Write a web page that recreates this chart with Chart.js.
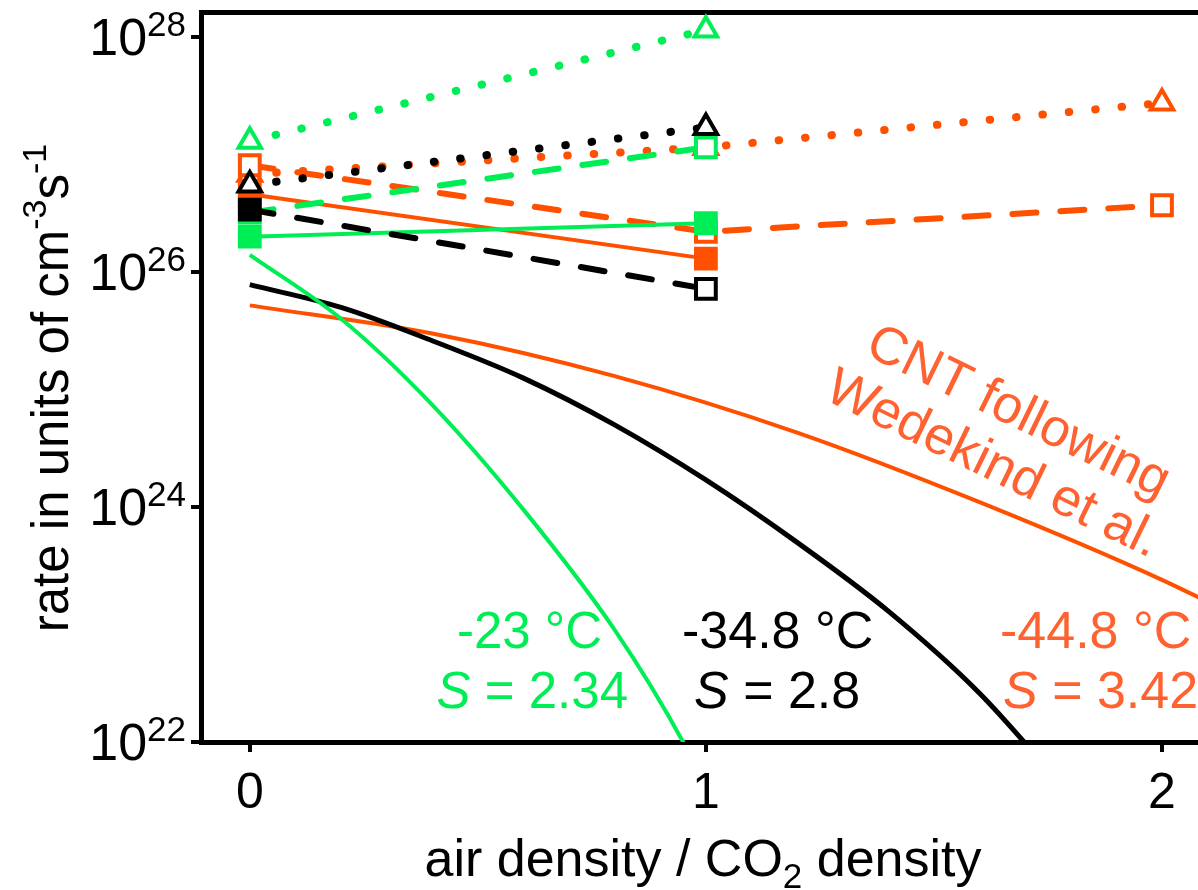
<!DOCTYPE html>
<html>
<head>
<meta charset="utf-8">
<script src="https://cdn.jsdelivr.net/npm/chart.js@4.4.1/dist/chart.umd.min.js"></script>
<style>
  html, body { margin: 0; padding: 0; background: #fff; overflow: hidden; }
  #wrap { width: 1198px; height: 890px; }
</style>
</head>
<body>
<div id="wrap"><canvas id="chart"></canvas></div>
<script>
const GREEN = '#00ee55';
const BLACK = '#000000';
const ORANGE = '#ff5000';
const ORANGE_TEXT = '#ff6230';
const FONT = '"Liberation Sans", Arial, sans-serif';

// measured points (x = air density / CO2 density)
const xTwo = [0, 1];
const xThree = [0, 1, 2];
const greenDotted = [1.3e27, 1.15e28];
const greenDashed = [3.2e26, 1.15e27];
const greenSolid = [2.0e26, 2.6e26];
const blackDotted = [5.5e26, 1.7e27];
const blackDashed = [3.4e26, 7.2e25];
const orangeDotted = [6.8e26, 1.15e27, 2.75e27];
const orangeDashed = [8.1e26, 2.2e26, 3.7e26];
const orangeSolid = [4.6e26, 1.3e26];

// CNT curves following Wedekind et al.
const cntGreenX = [0, 0.2, 0.4, 0.6, 0.8, 0.95, 1.0];
const cntGreenY = [1.4e26, 4.0e25, 7.4e24, 9.5e23, 9.0e22, 1.0e22, 4.0e21];
const cntBlackX = [0, 0.2, 0.4, 0.6, 0.8, 1.0, 1.2, 1.4, 1.6, 1.8];
const cntBlackY = [7.8e25, 5.0e25, 2.6e25, 1.25e25, 5.0e24, 1.7e24, 5.0e23, 1.3e23, 2.6e22, 3.5e21];
const cntOrangeX = [0, 0.4, 0.8, 1.2, 1.6, 2.0, 2.2];
const cntOrangeY = [5.2e25, 3.0e25, 1.3e25, 4.3e24, 1.1e24, 2.4e23, 1.0e23];

// axis ticks
const xTicks = [0, 1, 2];
const yTickExp = [22, 24, 26, 28];

const pts = (xs, ys) => xs.map((x, i) => ({ x: x, y: ys[i] }));

function measured(label, xs, ys, color, kind, styles, fills, order) {
  return {
    label: label,
    data: pts(xs, ys),
    borderColor: color,
    borderWidth: kind === 'dotted' ? 8 : (kind === 'dashed' ? 6 : 4),
    borderCapStyle: 'round',
    borderDash: kind === 'dotted' ? [0.5, 26] : (kind === 'dashed' ? [24, 24] : []),
    pointStyle: styles,
    pointRadius: styles.map(s => s === 'triangle' ? 13 : 14),
    pointBorderWidth: 4,
    pointBorderColor: color,
    pointBackgroundColor: fills,
    tension: 0,
    order: order
  };
}

function cnt(label, xs, ys, color, width) {
  return {
    label: label,
    data: pts(xs, ys),
    borderColor: color,
    borderWidth: width,
    pointRadius: 0,
    cubicInterpolationMode: 'monotone',
    order: 20
  };
}

const W = '#ffffff';
const datasets = [
  cnt('CNT -23', cntGreenX, cntGreenY, GREEN, 4),
  cnt('CNT -34.8', cntBlackX, cntBlackY, BLACK, 5),
  cnt('CNT -44.8', cntOrangeX, cntOrangeY, ORANGE, 4),
  measured('-44.8 dotted', xThree, orangeDotted, ORANGE, 'dotted', ['triangle', 'triangle', 'triangle'], [W, W, W], 9),
  measured('-44.8 dashed', xThree, orangeDashed, ORANGE, 'dashed', ['rect', 'rect', 'rect'], [W, W, W], 8),
  measured('-44.8 solid', xTwo, orangeSolid, ORANGE, 'solid', ['rect', 'rect'], [ORANGE, ORANGE], 7),
  measured('-23 dotted', xTwo, greenDotted, GREEN, 'dotted', ['triangle', 'triangle'], [W, W], 6),
  measured('-23 dashed', xTwo, greenDashed, GREEN, 'dashed', ['rect', 'rect'], [GREEN, W], 5),
  measured('-23 solid', xTwo, greenSolid, GREEN, 'solid', ['rect', 'rect'], [GREEN, GREEN], 4),
  measured('-34.8 dotted', xTwo, blackDotted, BLACK, 'dotted', ['triangle', 'triangle'], [W, W], 3),
  measured('-34.8 dashed', xTwo, blackDashed, BLACK, 'dashed', ['rect', 'rect'], [BLACK, W], 2)
];

function font(size, italic) {
  return (italic ? 'italic ' : '') + size + 'px ' + FONT;
}

// draw a run of text pieces (for superscripts, subscripts, italics)
function drawParts(ctx, x, y, parts, align) {
  let total = 0;
  parts.forEach(p => {
    ctx.font = font(p.size, p.italic);
    p.w = ctx.measureText(p.t).width;
    total += p.w;
  });
  let cx = align === 'right' ? x - total : (align === 'center' ? x - total / 2 : x);
  parts.forEach(p => {
    ctx.font = font(p.size, p.italic);
    ctx.fillText(p.t, cx, y + (p.dy || 0));
    cx += p.w;
  });
}

const textPlugin = {
  id: 'texts',
  afterDraw(chart) {
    const ctx = chart.ctx;
    const yScale = chart.scales.y;
    ctx.save();
    ctx.textAlign = 'left';
    ctx.textBaseline = 'alphabetic';

    // y tick labels 10^n
    ctx.fillStyle = BLACK;
    yTickExp.forEach(e => {
      const py = yScale.getPixelForValue(Math.pow(10, e));
      drawParts(ctx, 186, py + 18, [
        { t: '10', size: 52 },
        { t: String(e), size: 35, dy: -19 }
      ], 'right');
    });

    // y title
    ctx.save();
    ctx.translate(68, 388);
    ctx.rotate(-Math.PI / 2);
    drawParts(ctx, 0, 0, [
      { t: 'rate in units of cm', size: 51 },
      { t: '-3', size: 34, dy: -22 },
      { t: 's', size: 51 },
      { t: '-1', size: 34, dy: -22 }
    ], 'center');
    ctx.restore();

    // x title
    drawParts(ctx, 703, 876, [
      { t: 'air density / CO', size: 52 },
      { t: '2', size: 35, dy: 12 },
      { t: ' density', size: 52 }
    ], 'center');

    // temperature / supersaturation labels
    ctx.fillStyle = GREEN;
    drawParts(ctx, 602, 648, [{ t: '-23 °C', size: 51 }], 'right');
    drawParts(ctx, 628, 708, [{ t: 'S', size: 51, italic: true }, { t: ' = 2.34', size: 51 }], 'right');
    ctx.fillStyle = BLACK;
    drawParts(ctx, 682, 648, [{ t: '-34.8 °C', size: 52 }], 'left');
    drawParts(ctx, 694, 708, [{ t: 'S', size: 52, italic: true }, { t: ' = 2.8', size: 52 }], 'left');
    ctx.fillStyle = ORANGE_TEXT;
    drawParts(ctx, 1000, 648, [{ t: '-44.8 °C', size: 52 }], 'left');
    drawParts(ctx, 1003, 708, [{ t: 'S', size: 52, italic: true }, { t: ' = 3.42', size: 52 }], 'left');

    // CNT caption
    ctx.save();
    ctx.textBaseline = 'middle';
    ctx.translate(1018, 413);
    ctx.rotate(26 * Math.PI / 180);
    drawParts(ctx, 0, 0, [{ t: 'CNT following', size: 53 }], 'center');
    drawParts(ctx, 0, 58, [{ t: 'Wedekind et al.', size: 53 }], 'center');
    ctx.restore();

    ctx.restore();
  }
};

const xMin = -0.107;
const xMax = 2.079;

new Chart(document.getElementById('chart'), {
  type: 'line',
  data: { datasets: datasets },
  plugins: [textPlugin],
  options: {
    responsive: true,
    maintainAspectRatio: false,
    animation: false,
    layout: { autoPadding: false, padding: { left: 0, top: 12, right: 0, bottom: 0 } },
    plugins: { legend: { display: false }, tooltip: { enabled: false } },
    scales: {
      x: {
        type: 'linear',
        min: xMin,
        max: xMax,
        afterBuildTicks: s => { s.ticks = xTicks.map(v => ({ value: v })); },
        afterFit: s => { s.height = 148; },
        ticks: {
          color: BLACK,
          font: { family: FONT, size: 50 },
          padding: 12,
          maxRotation: 0
        },
        grid: { drawOnChartArea: false, color: BLACK, lineWidth: 4, tickLength: 10 },
        border: { color: BLACK, width: 5 }
      },
      xTop: {
        type: 'linear',
        position: 'top',
        min: xMin,
        max: xMax,
        afterFit: s => { s.height = 0; },
        ticks: { display: false },
        grid: { display: false },
        border: { display: true, color: BLACK, width: 5 }
      },
      y: {
        type: 'logarithmic',
        min: 1e22,
        max: 1.633e28,
        afterBuildTicks: s => { s.ticks = yTickExp.map(e => ({ value: Math.pow(10, e) })); },
        afterFit: s => { s.width = 201; },
        ticks: { callback: () => '' },
        grid: { drawOnChartArea: false, color: BLACK, lineWidth: 4, tickLength: 10 },
        border: { color: BLACK, width: 5 }
      }
    }
  }
});
</script>
</body>
</html>
